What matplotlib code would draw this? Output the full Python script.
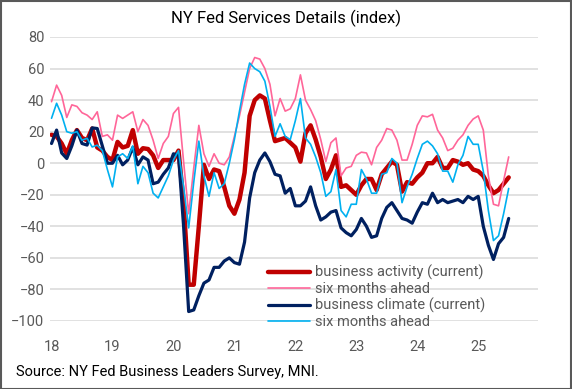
import matplotlib
matplotlib.use("Agg")
import matplotlib.pyplot as plt
from matplotlib.patches import Rectangle
import numpy as np

# ---- data (monthly, Jan 2018 - Jul 2025) ----
years = ["18", "19", "20", "21", "22", "23", "24", "25"]

activity_current = [18, 17, 12.5, 6, 14.6, 21, 16, 14.6, 22, 10, 8, 4, 2, 13.5, 10, 11, 21, 6, 9.5, 9,
                    5, -3, 2, 2, 2, 8, -25, -77, -77, -40, -1, -10, -4, -5, -15, -27, -32, -23, -6, 30,
                    40, 43, 41, 27, 14, 15, 16, 13, 10, 1, 19, 24, 15, 4, -10, -4, 5, -15, -14, -17,
                    -20, -14, -10, -10, -17, -7, -3, 1, -1, -18, -12, -13, -9, -6, 0, 0, 4, -3, -3, 2,
                    1, -1, 0, -4, -5, -8, -14, -19, -17, -13, -9]

activity_ahead = [39, 49.5, 43, 29, 37, 36, 32, 30.5, 27.7, 32.6, 17, 18, 14.6, 30.5, 28.4, 30.5, 32.6, 20, 27.7, 24,
                  14.6, 3, 12.5, 17, 31.5, 35.4, 1, -32, -3, 24, 6, -2, 6, 0, -1, 4, 17, 30, 45, 60,
                  67, 66, 60, 50, 30, 41, 33, 34.5, 41, 56, 40, 34, 27, 15, 1, 13, 16, -8, -3, -2,
                  5, 7, 6.5, -1, 10, 14.6, 22, 21, 14.6, 2, 2, 12, 24, 30, 29.4, 31, 21, 16, 8, 9.5,
                  14.6, 18, 24, 28, 30, 21, -8, -26, -27, -11, 4]

climate_current = [12.5, 21, 6.5, 3, 11, 21, 12.5, 11.5, 22.4, 22, 11, 0, 0, 5, -1, 2, 10, -1, 4, 2,
                   -13, -12, -7, -3, 6, 5, -40, -94, -93, -84, -76, -74, -66, -66, -62, -60, -63, -64, -50, -22,
                   -6, 2, 6.5, 1, -7, -8, -19, -16, -27, -27, -24, -15, -27, -36, -34, -31, -30, -41, -44, -46,
                   -42, -35, -40, -47, -46, -35, -28, -25, -30, -35, -36, -38, -31, -25, -26, -19, -25, -23, -25, -24,
                   -23, -25, -21, -23, -21, -40, -52, -61, -51, -47, -35]

climate_ahead = [28.5, 38, 30.5, 20, 19, 20, 14.6, 15.8, 10.3, 11.4, 8, -4, -15, 4, 6, 3, 11, -13, -2, -6,
                 -19, -22, -15, -8, 2, 8, -15, -41, -12, 14, -8, -21, -6, -16, -13, 0, 15, 33, 50, 63.5,
                 60, 58, 52, 36, 17, 25, 17, 15, 27, 41, 16, 12, 4, -6, -21, -18, -4, -30, -34, -26,
                 -26, -4, -10, -19, -19, -7, -6, 3, 0, -25, -15, -7, 3, 12, 14, 11, 6, -5, -5, -12,
                 -1, 5, 17, 12, 12, -5, -30, -49, -46, -32, -16]

labels = ["business activity (current)", "six months ahead",
          "business climate (current)", "six months ahead"]
colors = ["#C00000", "#FF6699", "#002060", "#00B0F0"]
widths = [3.2, 1.2, 2.3, 1.2]

FONT = ["Roboto", "DejaVu Sans"]
plt.rcParams["font.family"] = FONT

W, H = 572, 389
fig = plt.figure(figsize=(W / 100, H / 100), dpi=100)
ax = fig.add_axes([50 / W, (H - 321) / H, 488 / W, 284 / H])

months = np.arange(len(activity_current))
series = [activity_current, activity_ahead, climate_current, climate_ahead]
for s, lab, c, lw in zip(series, labels, colors, widths):
    ax.plot(months, s, color=c, lw=lw, label=lab, solid_joinstyle="round", solid_capstyle="round")

ax.set_xlim(-0.3, 95.77)
ax.set_ylim(-100, 80)
ax.set_yticks(np.arange(-100, 81, 20))
ax.set_xticks(np.arange(len(years)) * 12)
ax.set_xticklabels(years)
ax.grid(axis="y", color="#D9D9D9", lw=1.1)
ax.set_axisbelow(True)
for sp in ax.spines.values():
    sp.set_visible(False)
ax.tick_params(axis="both", length=0, labelsize=10.5, labelcolor="#595959")
ax.tick_params(axis="y", pad=4)
ax.tick_params(axis="x", pad=14)

leg = ax.legend(loc="upper left", bbox_to_anchor=(268 / W, 1 - 265 / H), bbox_transform=fig.transFigure,
                frameon=False, fontsize=10.5, handlelength=2.9, handletextpad=0.3, labelspacing=0.12,
                borderpad=0, borderaxespad=0)
for t in leg.get_texts():
    t.set_color("#595959")

fig.text(0.5, 1 - 18 / H, "NY Fed Services Details (index)", ha="center", va="center",
         fontsize=12, color="#000000")
fig.text(16 / W, 1 - 372 / H, "Source: NY Fed Business Leaders Survey, MNI.", ha="left", va="center",
         fontsize=10.5, color="#000000", family=["Liberation Sans Narrow", "Roboto", "DejaVu Sans"])

fig.patches.append(Rectangle((0.5 / W, 0.5 / H), (W - 1.5) / W, (H - 1.5) / H, transform=fig.transFigure,
                             fill=False, edgecolor="#595959", lw=1.5))

fig.savefig("out.png", dpi=100)
